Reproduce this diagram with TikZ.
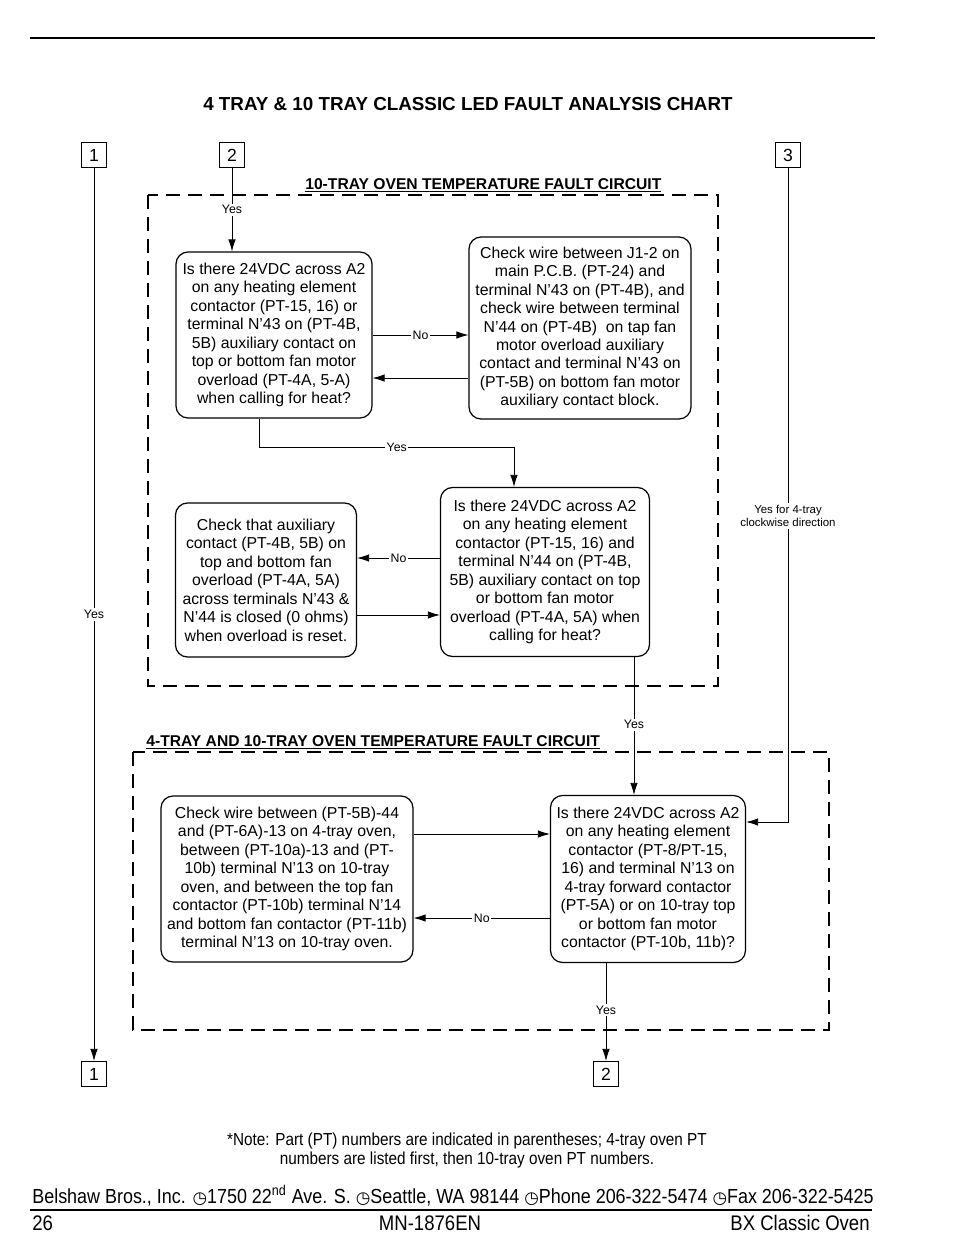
\documentclass[tikz,border=0pt]{standalone}
\usepackage{fontspec}
\setmainfont{Liberation Sans}
\newfontfamily\symfont{DejaVu Sans}
\newfontfamily\narrowfont[FakeStretch=0.88]{Liberation Sans}
\usetikzlibrary{positioning, arrows.meta}
\usetikzlibrary{shapes}
\newlength\pxu
\setlength\pxu{0.2mm}
\newcommand{\dotsym}{{\symfont\fontsize{9.5}{10}\selectfont ◷}}

\begin{document}
\begin{tikzpicture}[x=0.2mm,y=-0.2mm,>={Latex[length=2.4mm,width=1.5mm]},
    every node/.style={font=\fontsize{9}{10.5}\selectfont},
    stepbox/.style={shape=rectangle,draw,rounded corners=2.4mm,line width=0.7pt,align=center,inner sep=0pt},
    tag/.style={shape=rectangle,draw,line width=0.7pt,minimum size=25\pxu,inner sep=0pt,font=\fontsize{10}{12}\selectfont},
    flow/.style={->,line width=0.45pt},
    lbl/.style={fill=white,inner sep=1pt,font=\fontsize{7}{8}\selectfont},
    frame/.style={line width=1.6pt,dash pattern=on 2.8mm off 1.6mm},
    heading/.style={font=\bfseries\fontsize{8.9}{11}\selectfont,anchor=base west,inner sep=0pt},
]
    \useasboundingbox (0,0) rectangle (954,1260);
    % page rules and title
    \draw[line width=0.8pt] (30,38) -- (875,38);
    \node[font=\bfseries\fontsize{10.7}{13}\selectfont] (title) at (468,104) {4 TRAY \& 10 TRAY CLASSIC LED FAULT ANALYSIS CHART};
    % entry and exit tags
    \node[tag] (in1) at (94,155) {1};
    \node[tag] (in2) at (232,155) {2};
    \node[tag] (in3) at (788,155) {3};
    \node[tag] (out1) at (94,1074) {1};
    \node[tag] (out2) at (606,1074) {2};
    % circuit frames
    \draw[frame] (148,195) rectangle (718,686);
    \node[heading] (head10) at (305,189) {\underline{10-TRAY OVEN TEMPERATURE FAULT CIRCUIT}};
    \draw[frame] (133,752) rectangle (829,1030);
    \node[heading] (head4) at (146,746) {\underline{4-TRAY AND 10-TRAY OVEN TEMPERATURE FAULT CIRCUIT}};
    % 10-tray checks
    \node[stepbox,minimum width=196\pxu,minimum height=166\pxu] (q1) at (274,335) {Is there 24VDC across A2\\on any heating element\\contactor (PT-15, 16) or\\terminal N'43 on (PT-4B,\\5B) auxiliary contact on\\top or bottom fan motor\\overload (PT-4A, 5-A)\\when calling for heat?}; %first question
    \node[stepbox,minimum width=222\pxu,minimum height=182\pxu] (fix1) at (580,328) {Check wire between J1-2 on\\main P.C.B. (PT-24) and\\terminal N'43 on (PT-4B), and\\check wire between terminal\\N'44 on (PT-4B) \ on tap fan\\motor overload auxiliary\\contact and terminal N'43 on\\(PT-5B) on bottom fan motor\\auxiliary contact block.};
    \node[stepbox,minimum width=181\pxu,minimum height=154\pxu] (fix2) at (266,580) {Check that auxiliary\\contact (PT-4B, 5B) on\\top and bottom fan\\overload (PT-4A, 5A)\\across terminals N'43 \&\\N'44 is closed (0 ohms)\\when overload is reset.};
    \node[stepbox,minimum width=209\pxu,minimum height=169\pxu] (q2) at (545,572) {Is there 24VDC across A2\\on any heating element\\contactor (PT-15, 16) and\\terminal N'44 on (PT-4B,\\5B) auxiliary contact on top\\or bottom fan motor\\overload (PT-4A, 5A) when\\calling for heat?};
    % 4-tray and 10-tray checks
    \node[stepbox,minimum width=252\pxu,minimum height=166\pxu] (fix3) at (287,879) {Check wire between (PT-5B)-44\\and (PT-6A)-13 on 4-tray oven,\\between (PT-10a)-13 and (PT-\\10b) terminal N'13 on 10-tray\\oven, and between the top fan\\contactor (PT-10b) terminal N'14\\and bottom fan contactor (PT-11b)\\terminal N'13 on 10-tray oven.};
    \node[stepbox,minimum width=195\pxu,minimum height=167\pxu] (q3) at (648,879) {Is there 24VDC across A2\\on any heating element\\contactor (PT-8/PT-15,\\16) and terminal N'13 on\\4-tray forward contactor\\(PT-5A) or on 10-tray top\\or bottom fan motor\\contactor (PT-10b, 11b)?};
    % connectors
    \draw[flow] (in1.south) -- node[lbl]{Yes} (out1.north);
    \draw[flow] (in2.south) -- node[lbl]{Yes} (in2.south |- q1.north);
    \draw[flow] (q1.east) -- node[lbl]{No} (q1.east -| fix1.west);
    \draw[flow] ([yshift=-43\pxu]q1.east -| fix1.west) -- ([yshift=-43\pxu]q1.east);
    \draw[flow] ([xshift=-15\pxu]q1.south) -- ++(0,29) -| node[lbl,pos=0.27]{Yes} ([xshift=-31\pxu]q2.north);
    \draw[flow] ([yshift=22\pxu]fix2.east -| q2.west) -- node[lbl]{No} ([yshift=22\pxu]fix2.east);
    \draw[flow] ([yshift=-35\pxu]fix2.east) -- ([yshift=-35\pxu]fix2.east -| q2.west);
    \draw[flow] ([xshift=89\pxu]q2.south) -- node[lbl,pos=0.49]{Yes} ([xshift=89\pxu]q2.south |- q3.north);
    \draw[flow] (in3.south) |- node[lbl,pos=0.266,align=center,font=\fontsize{6.5}{7.5}\selectfont]{Yes for 4-tray\\clockwise direction} ([yshift=57\pxu]q3.east);
    \draw[flow] ([yshift=45\pxu]fix3.east) -- ([yshift=45\pxu]fix3.east -| q3.west);
    \draw[flow] ([yshift=-39\pxu]fix3.east -| q3.west) -- node[lbl]{No} ([yshift=-39\pxu]fix3.east);
    \draw[flow] ([xshift=-42\pxu]q3.south) -- node[lbl,pos=0.48]{Yes} ([xshift=-42\pxu]q3.south |- out2.north);
    % note and footer
    \node[align=center,font=\narrowfont\fontsize{9.9}{10.8}\selectfont] (note) at (467,1150) {*Note: Part (PT) numbers are indicated in parentheses; 4-tray oven PT\\numbers are listed first, then 10-tray oven PT numbers.};
    \node[anchor=base west,inner sep=0pt,font=\narrowfont\fontsize{11.6}{14}\selectfont] (address) at (32,1203) {Belshaw Bros., Inc. \dotsym1750 22\textsuperscript{nd} Ave. S. \dotsym Seattle, WA 98144 \dotsym Phone 206-322-5474 \dotsym Fax 206-322-5425};
    \draw[line width=0.8pt] (30,1210) -- (872,1210);
    \node[anchor=base west,inner sep=0pt,font=\narrowfont\fontsize{12}{14}\selectfont] (page) at (32,1230) {26};
    \node[anchor=base,inner sep=0pt,font=\narrowfont\fontsize{12}{14}\selectfont] (docno) at (430,1230) {MN-1876EN};
    \node[anchor=base east,inner sep=0pt,font=\narrowfont\fontsize{12}{14}\selectfont] (model) at (870,1230) {BX Classic Oven};
\end{tikzpicture}
\end{document}
